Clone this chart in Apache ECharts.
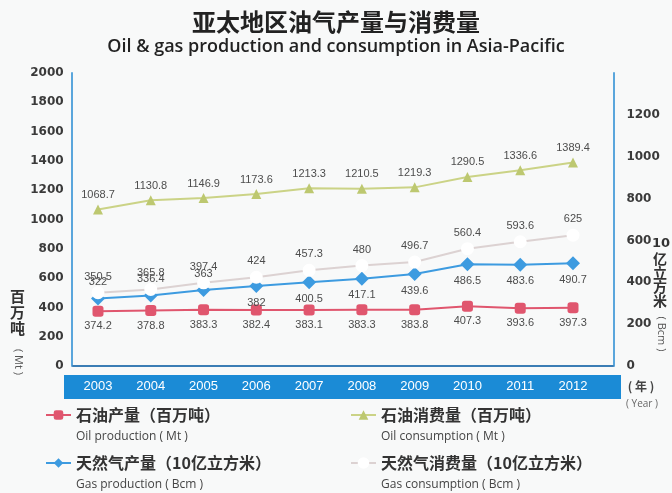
<!DOCTYPE html>
<html>
<head>
<meta charset="utf-8">
<script src="https://cdn.jsdelivr.net/npm/echarts@6/dist/echarts.min.js"></script>
<style>
  html, body { margin: 0; padding: 0; background: #f8f9f9; }
  #chart { width: 672px; height: 493px; }
</style>
</head>
<body>
<div id="chart"></div>
<script>
// Years on the category axis
const years = ['2003', '2004', '2005', '2006', '2007', '2008', '2009', '2010', '2011', '2012'];

// Oil, million tonnes (left axis)
const oilProduction = [374.2, 378.8, 383.3, 382.4, 383.1, 383.3, 383.8, 407.3, 393.6, 397.3];
const oilConsumption = [1068.7, 1130.8, 1146.9, 1173.6, 1213.3, 1210.5, 1219.3, 1290.5, 1336.6, 1389.4];

// Natural gas, billion cubic metres (right axis)
const gasProduction = [322, 336.4, 363, 382, 400.5, 417.1, 439.6, 486.5, 483.6, 490.7];
const gasConsumption = [350.5, 365.8, 397.4, 424, 457.3, 480, 496.7, 560.4, 593.6, 625];

// Series names (Chinese) and their English captions
const seriesNames = ['石油产量（百万吨）', '石油消费量（百万吨）', '天然气产量（10亿立方米）', '天然气消费量（10亿立方米）'];
const seriesNamesEn = ['Oil production ( Mt )', 'Oil consumption ( Mt )', 'Gas production ( Bcm )', 'Gas consumption ( Bcm )'];

const LABEL_FONT = 'Liberation Sans, Arial, sans-serif';
const CJK_FONT = '"Noto Sans CJK SC", sans-serif';
const AXIS_BLUE = '#5aa6dc';

const valueLabel = {
  show: true,
  fontSize: 11,
  color: '#4d4d4d',
  fontFamily: LABEL_FONT,
  distance: 4
};

function legendFormatter(name) {
  const i = seriesNames.indexOf(name);
  return '{cn|' + name + '}\n{en|' + seriesNamesEn[i] + '}';
}

const legendText = {
  padding: [22, 0, 0, 0],
  rich: {
    cn: { fontSize: 16, fontWeight: 'bold', color: '#333', fontFamily: CJK_FONT, lineHeight: 22 },
    en: { fontSize: 12, color: '#444', fontFamily: '"Open Sans", sans-serif', lineHeight: 22 }
  }
};

// one legend block per series, laid out as a 2 x 2 table
function legendBlock(name, left, top) {
  return {
    data: [name],
    left: left,
    top: top,
    itemWidth: 25,
    itemHeight: 12,
    formatter: legendFormatter,
    textStyle: legendText
  };
}

function plainNumber(v) {
  return String(v);
}

const axisLabelStyle = {
  color: '#3a3a3a',
  fontSize: 12,
  fontWeight: 'bold',
  fontFamily: 'DejaVu Sans, sans-serif',
  formatter: plainNumber
};

const chart = echarts.init(document.getElementById('chart'), null, { renderer: 'canvas' });

chart.setOption({
  backgroundColor: '#f8f9f9',
  animation: false,
  title: {
    text: '亚太地区油气产量与消费量',
    subtext: 'Oil & gas production and consumption in Asia-Pacific',
    left: 'center',
    top: 5,
    itemGap: 4,
    textStyle: { fontSize: 24, fontWeight: 'bold', color: '#222', fontFamily: CJK_FONT },
    subtextStyle: { fontSize: 18, fontWeight: 600, color: '#222', fontFamily: '"Open Sans", sans-serif' }
  },
  legend: [
    legendBlock(seriesNames[0], 40, 402),
    legendBlock(seriesNames[1], 345, 402),
    legendBlock(seriesNames[2], 40, 450),
    legendBlock(seriesNames[3], 345, 450)
  ],
  grid: [
    { left: 71.6, right: 72.6, top: 73, bottom: 127 },
    { left: 73, right: 59, top: 73, bottom: 127 }
  ],
  xAxis: [
    {
      type: 'category',
      gridIndex: 0,
      data: years,
      boundaryGap: true,
      axisLine: { show: false },
      axisTick: { show: false },
      axisLabel: { color: '#ffffff', fontSize: 13, fontFamily: LABEL_FONT, margin: 14 },
      z: 10
    },
    {
      type: 'value',
      gridIndex: 1,
      axisLine: { show: true, lineStyle: { color: '#3b7db5', width: 2 } },
      axisTick: { show: false },
      axisLabel: { show: false },
      splitLine: { show: false }
    }
  ],
  yAxis: [
    {
      type: 'value',
      gridIndex: 0,
      position: 'left',
      min: 0,
      max: 2000,
      interval: 200,
      axisLine: { show: true, lineStyle: { color: AXIS_BLUE, width: 2 } },
      axisTick: { show: false },
      splitLine: { show: false },
      axisLabel: Object.assign({}, axisLabelStyle, { margin: 8 })
    },
    {
      type: 'value',
      gridIndex: 0,
      position: 'right',
      offset: 14,
      min: 0,
      max: 1400,
      interval: 200,
      axisLine: { show: true, lineStyle: { color: AXIS_BLUE, width: 2 } },
      axisTick: { show: false },
      splitLine: { show: false },
      axisLabel: Object.assign({}, axisLabelStyle, { margin: 13, showMaxLabel: false })
    },
    {
      type: 'value',
      gridIndex: 1,
      show: false
    }
  ],
  graphic: {
    elements: [
      {
        // year band under the horizontal axis
        type: 'rect',
        z: -1,
        shape: { x: 64, y: 375, width: 557, height: 24 },
        style: { fill: '#1b8bd6' }
      },
      {
        type: 'text', left: 10, top: 288,
        style: { text: '百\n万\n吨', font: 'bold 15px "Noto Sans CJK SC"', fill: '#333', lineHeight: 16 }
      },
      {
        type: 'text', x: 18, y: 362, rotation: -Math.PI / 2,
        style: { text: '( Mt )', fontSize: 11, fill: '#555', fontFamily: '"Open Sans", sans-serif', align: 'center', verticalAlign: 'middle' }
      },
      {
        type: 'text', left: 652, top: 237,
        style: { text: '10', fontSize: 13, fontWeight: 'bold', fill: '#333', fontFamily: 'DejaVu Sans, sans-serif' }
      },
      {
        type: 'text', left: 653, top: 252,
        style: { text: '亿\n立\n方\n米', fontSize: 14, fontWeight: 'bold', fill: '#333', fontFamily: CJK_FONT, lineHeight: 14 }
      },
      {
        type: 'text', x: 661, y: 334, rotation: -Math.PI / 2,
        style: { text: '( Bcm )', fontSize: 11, fill: '#555', fontFamily: '"Open Sans", sans-serif', align: 'center', verticalAlign: 'middle' }
      },
      {
        type: 'text', x: 641, y: 386,
        style: { text: '( 年 )', fontSize: 12, fontWeight: 'bold', fill: '#444', fontFamily: CJK_FONT, align: 'center', verticalAlign: 'middle' }
      },
      {
        type: 'text', x: 642, y: 404,
        style: { text: '( Year )', fontSize: 10, fill: '#666', fontFamily: '"Open Sans", sans-serif', align: 'center', verticalAlign: 'middle' }
      }
    ]
  },
  series: [
    {
      name: seriesNames[0],
      type: 'line',
      xAxisIndex: 0,
      yAxisIndex: 0,
      data: oilProduction,
      symbol: 'roundRect',
      symbolSize: 11,
      lineStyle: { color: '#e0566e', width: 2 },
      itemStyle: { color: '#e0566e' },
      label: Object.assign({}, valueLabel, { position: 'bottom' })
    },
    {
      name: seriesNames[1],
      type: 'line',
      xAxisIndex: 0,
      yAxisIndex: 0,
      data: oilConsumption,
      symbol: 'triangle',
      symbolSize: 10,
      lineStyle: { color: '#cbd386', width: 2 },
      itemStyle: { color: '#bdc870' },
      label: Object.assign({}, valueLabel, { position: 'top' })
    },
    {
      name: seriesNames[2],
      type: 'line',
      xAxisIndex: 0,
      yAxisIndex: 1,
      data: gasProduction.map((v, i) => ({
        value: v,
        label: { position: i < 3 ? 'top' : 'bottom' }
      })),
      symbol: 'diamond',
      symbolSize: 14,
      lineStyle: { color: '#3d9be0', width: 2 },
      itemStyle: { color: '#3d9be0' },
      label: Object.assign({}, valueLabel)
    },
    {
      name: seriesNames[3],
      type: 'line',
      xAxisIndex: 0,
      yAxisIndex: 1,
      data: gasConsumption,
      symbol: 'emptyCircle',
      symbolSize: 11,
      lineStyle: { color: '#dcd2d2', width: 2 },
      itemStyle: { color: '#ffffff', borderColor: '#cfc1c1', borderWidth: 2 },
      label: Object.assign({}, valueLabel, { position: 'top' })
    }
  ]
});
</script>
</body>
</html>
